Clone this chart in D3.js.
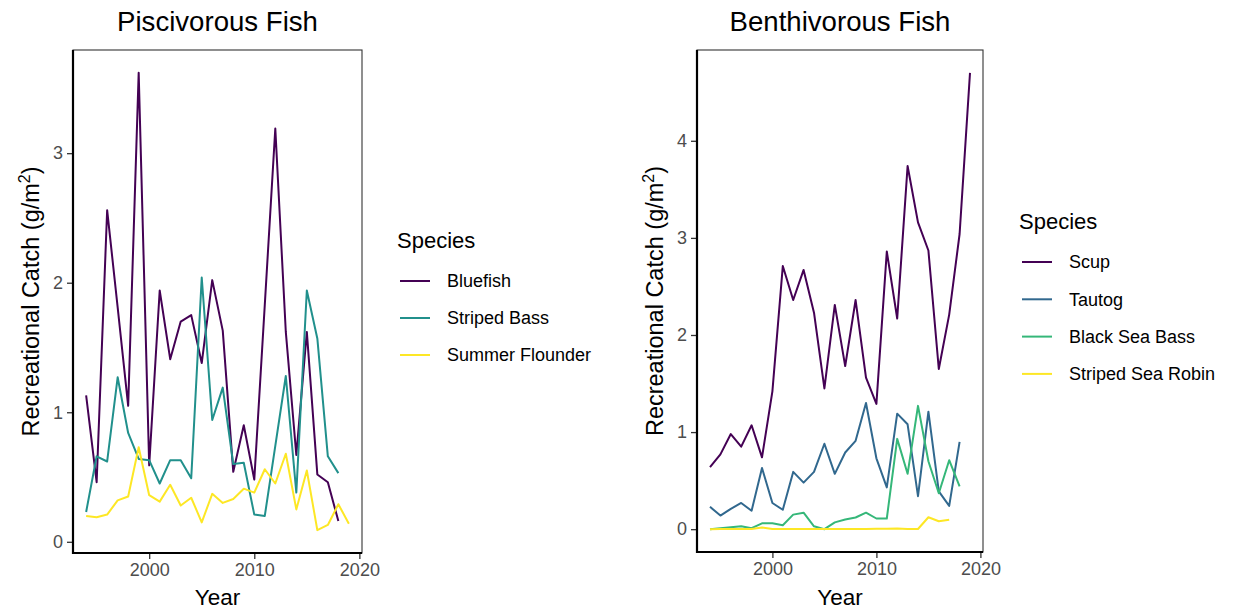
<!DOCTYPE html>
<html>
<head>
<meta charset="utf-8">
<script src="https://cdn.jsdelivr.net/npm/d3@7"></script>
<style>
	body { margin:0; background:#fff; }
	svg { display:block; font-family:"Liberation Sans", Arial, Helvetica, sans-serif; }
</style>
</head>
<body>
<svg id="chart-1" width="1241" height="612"></svg>
<script>
// ---- data ----
const years = [1994,1995,1996,1997,1998,1999,2000,2001,2002,2003,2004,2005,2006,
	2007,2008,2009,2010,2011,2012,2013,2014,2015,2016,2017,2018,2019];

// Piscivorous (null = no value that year)
const bluefish = [1.13,0.46,2.56,1.81,1.05,3.62,0.59,1.94,1.41,1.70,1.75,1.38,2.02,
	1.63,0.54,0.90,0.48,1.83,3.19,1.62,0.67,1.62,0.52,0.46,0.16,null];
const stripedBass = [0.23,0.66,0.62,1.27,0.84,0.64,0.63,0.45,0.63,0.63,0.49,2.04,0.94,
	1.19,0.60,0.61,0.21,0.20,0.74,1.28,0.38,1.94,1.57,0.66,0.53,null];
const summerFlounder = [0.20,0.19,0.21,0.32,0.35,0.73,0.36,0.31,0.44,0.28,0.34,0.15,0.37,
	0.30,0.33,0.41,0.38,0.56,0.45,0.68,0.25,0.55,0.09,0.13,0.29,0.14];

// Benthivorous
const scup = [0.64,0.77,0.98,0.85,1.07,0.74,1.42,2.71,2.36,2.67,2.23,1.45,2.31,
	1.68,2.36,1.56,1.29,2.86,2.17,3.74,3.16,2.87,1.65,2.21,3.04,4.70];
const tautog = [0.23,0.14,0.21,0.27,0.19,0.63,0.27,0.20,0.59,0.48,0.59,0.88,0.57,
	0.79,0.91,1.30,0.73,0.43,1.19,1.08,0.34,1.21,0.39,0.24,0.90,null];
const blackSeaBass = [0.00,0.01,0.02,0.03,0.01,0.06,0.06,0.04,0.15,0.17,0.03,0.00,0.07,
	0.10,0.12,0.17,0.11,0.11,0.93,0.57,1.27,0.70,0.37,0.71,0.44,null];
const stripedSeaRobin = [0.00,0.002,0.002,0.003,0.002,0.017,0.003,0.002,0.002,0.002,0.002,0.002,0.002,
	0.002,0.002,0.003,0.004,0.005,0.006,0.003,0.002,0.123,0.082,0.096,null,null];

const xTicks = [2000, 2010, 2020];
const yTicksLeft = [0, 1, 2, 3];
const yTicksRight = [0, 1, 2, 3, 4];

const panels = [
	{
		title: 'Piscivorous Fish',
		box: {left:73, right:362, top:50, bottom:553},
		yTicks: yTicksLeft,
		yLabelX: 39,
		legend: {x:400, titleY:248, firstY:281, step:37},
		series: [
			{name:'Bluefish', values:bluefish, color:'#440154'},
			{name:'Striped Bass', values:stripedBass, color:'#21908C'},
			{name:'Summer Flounder', values:summerFlounder, color:'#FDE725'}
		]
	},
	{
		title: 'Benthivorous Fish',
		box: {left:697, right:983, top:50, bottom:552},
		yTicks: yTicksRight,
		yLabelX: 663,
		legend: {x:1022, titleY:229, firstY:262, step:37.3},
		series: [
			{name:'Scup', values:scup, color:'#440154'},
			{name:'Tautog', values:tautog, color:'#31688E'},
			{name:'Black Sea Bass', values:blackSeaBass, color:'#35B779'},
			{name:'Striped Sea Robin', values:stripedSeaRobin, color:'#FDE725'}
		]
	}
];

const svg = d3.select('svg#chart-1');

// ggplot style: 5% expansion of data range
function expanded(ext) {
	const pad = (ext[1]-ext[0])*0.05;
	return [ext[0]-pad, ext[1]+pad];
}

panels.forEach(p => {
	const b = p.box;
	const allVals = [];
	p.series.forEach(s => s.values.forEach(v => { if (v !== null) allVals.push(v); }));
	const usedYears = years.filter((y,i) => p.series.some(s => s.values[i] !== null));

	const x = d3.scaleLinear().domain(expanded(d3.extent(usedYears))).range([b.left, b.right]);
	const y = d3.scaleLinear().domain(expanded(d3.extent(allVals))).range([b.bottom, b.top]);

	const g = svg.append('g');

	// panel border
	g.append('rect')
		.attr('x', b.left).attr('y', b.top)
		.attr('width', b.right-b.left).attr('height', b.bottom-b.top)
		.attr('fill', 'none').attr('stroke', '#333333').attr('stroke-width', 1.1);

	// lines
	const line = d3.line()
		.defined(d => d.v !== null)
		.x(d => x(d.year))
		.y(d => y(d.v));

	p.series.forEach(s => {
		const pts = years.map((yr,i) => ({year:yr, v:s.values[i]}));
		g.append('path')
			.datum(pts)
			.attr('d', line)
			.attr('fill', 'none')
			.attr('stroke', s.color)
			.attr('stroke-width', 2)
			.attr('stroke-linejoin', 'round');
	});

	// axes
	const xAxis = g.append('g')
		.attr('transform', `translate(0,${b.bottom})`)
		.call(d3.axisBottom(x).tickValues(xTicks).tickFormat(d3.format('d')).tickSize(6).tickPadding(4));
	const yAxis = g.append('g')
		.attr('transform', `translate(${b.left},0)`)
		.call(d3.axisLeft(y).tickValues(p.yTicks).tickFormat(d3.format('d')).tickSize(6).tickPadding(4));

	[xAxis, yAxis].forEach(ax => {
		ax.select('.domain').remove();
		ax.selectAll('.tick line').attr('stroke', '#333333').attr('stroke-width', 1.3);
		ax.selectAll('.tick text')
			.attr('fill', '#4d4d4d')
			.style('font-size', '18px')
			.style('font-family', '"Liberation Sans", Arial, Helvetica, sans-serif');
	});

	// axis lines (black, heavier)
	g.append('line')
		.attr('x1', b.left).attr('x2', b.left)
		.attr('y1', b.top).attr('y2', b.bottom+1)
		.attr('stroke', '#000').attr('stroke-width', 2.2);
	g.append('line')
		.attr('x1', b.left-1).attr('x2', b.right)
		.attr('y1', b.bottom).attr('y2', b.bottom)
		.attr('stroke', '#000').attr('stroke-width', 2.2);

	// title
	g.append('text')
		.attr('x', (b.left+b.right)/2).attr('y', 31)
		.attr('text-anchor', 'middle')
		.style('font-size', '27.6px')
		.text(p.title);

	// x axis title
	g.append('text')
		.attr('x', (b.left+b.right)/2).attr('y', 605)
		.attr('text-anchor', 'middle')
		.style('font-size', '22.5px')
		.text('Year');

	// y axis title
	const yl = g.append('text')
		.attr('transform', `translate(${p.yLabelX},${(b.top+b.bottom)/2}) rotate(-90)`)
		.attr('text-anchor', 'middle')
		.style('font-size', '23.5px');
	yl.append('tspan').text('Recreational Catch (g/m');
	yl.append('tspan').attr('dy', -9).style('font-size', '16px').text('2');
	yl.append('tspan').attr('dy', 9).text(')');

	// legend
	const lg = g.append('g');
	lg.append('text')
		.attr('x', p.legend.x-3).attr('y', p.legend.titleY)
		.style('font-size', '22px')
		.text('Species');
	p.series.forEach((s,i) => {
		const yy = p.legend.firstY + i*p.legend.step;
		lg.append('line')
			.attr('x1', p.legend.x).attr('x2', p.legend.x+30)
			.attr('y1', yy).attr('y2', yy)
			.attr('stroke', s.color).attr('stroke-width', 2);
		lg.append('text')
			.attr('x', p.legend.x+47).attr('y', yy)
			.attr('dy', '0.35em')
			.style('font-size', '18px')
			.text(s.name);
	});
});
</script>
</body>
</html>
